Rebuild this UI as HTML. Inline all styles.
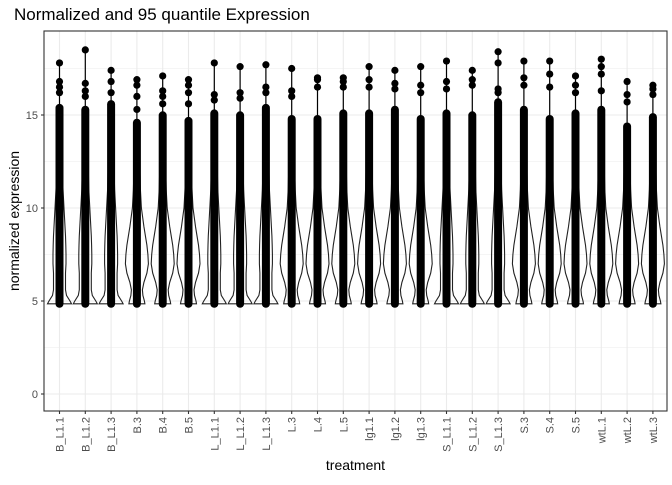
<!DOCTYPE html>
<html><head><meta charset="utf-8"><style>
body{margin:0;background:#fff;font-family:"Liberation Sans",sans-serif}
svg text{font-family:"Liberation Sans",sans-serif}
</style></head><body>
<svg id="c" width="672" height="480"></svg>
<script>
const categories=["B_L1.1","B_L1.2","B_L1.3","B.3","B.4","B.5","L_L1.1","L_L1.2","L_L1.3","L.3","L.4","L.5","lg1.1","lg1.2","lg1.3","S_L1.1","S_L1.2","S_L1.3","S.3","S.4","S.5","wtL.1","wtL.2","wtL.3"];
const maxValues=[17.8,18.5,17.4,16.9,17.1,16.9,17.8,17.6,17.7,17.5,17.0,17.0,17.6,17.4,17.6,17.9,17.4,18.4,17.9,17.9,17.1,18.0,16.8,16.6];
const barTops=[15.6,15.5,15.8,14.8,15.2,14.9,15.3,15.2,15.6,15.0,15.0,15.3,15.3,15.5,15.0,15.3,15.2,15.9,15.5,15.0,15.3,15.5,14.6,15.1];
const outliers=[[16.8,16.5,16.2],[16.7,16.3,16.0],[16.8,16.2],[16.6,16.0,15.3],[16.3,16.0,15.6],[16.6,16.2,15.6],[16.1,15.8],[16.2,15.9],[16.5,16.2],[16.3,16.0],[16.9,16.5],[16.8,16.5],[16.9,16.5],[16.7,16.4],[16.6,16.2],[16.8,16.4],[16.9,16.6],[17.8,16.4,16.2],[17.0,16.6],[17.2,16.5],[16.6,16.2],[17.6,17.2,16.3],[16.1,15.7],[16.4,16.1]];
const shapeType=["B","B","B","A","A","A","B","B","B","A","A","A","A","A","A","B","B","B","A","A","A","A","A","A"];
const profileY=[4.85,5.0,5.3,5.6,6.0,6.5,7.0,7.5,8.0,8.5,9.0,10,11,12,14];
const profileA=[8,7.5,6,5.5,7,10,11.5,11,10,8.5,7,4.5,3.5,3,2];
const profileB=[12,10.5,7,6,6,6,6.5,6.5,6.3,6,5.5,4.5,3.5,3,2];
const yTicks=[0,5,10,15];
const NS="http://www.w3.org/2000/svg";
const svg=document.getElementById('c');
const L=44,R=667,T=31,B=411;
const y=v=>394-v*18.6;
const x=i=>59.5+i*25.8;
function mk(tag,at,parent){const e=document.createElementNS(NS,tag);for(const k in at)e.setAttribute(k,at[k]);(parent||svg).appendChild(e);return e;}
let e;
e=mk('rect',{x:L,y:T,width:R-L,height:B-T,fill:'#fff'});


for(let v=-2.5;v<=20;v+=2.5){const major=yTicks.includes(v);if(y(v)<T||y(v)>B)continue;
 e=mk('line',{x1:L,x2:R,y1:y(v),y2:y(v),stroke:'#ebebeb','stroke-width':major?1.1:0.55});
 
 }
categories.forEach((c,i)=>{e=mk('line',{x1:x(i),x2:x(i),y1:T,y2:B,stroke:'#ebebeb','stroke-width':1.1});
 
 });
categories.forEach((c,i)=>{
 const g=mk('g',{});
 
 
 const prof=shapeType[i]==="A"?profileA:profileB;
 let d='';
 profileY.forEach((v,k)=>{d+=(k?'L':'M')+(x(i)+prof[k])+','+y(v);});
 for(let k=profileY.length-1;k>=0;k--)d+='L'+(x(i)-prof[k])+','+y(profileY[k]);
 d+='Z';
 e=mk('path',{d:d,fill:'none',stroke:'#222','stroke-width':1.1},g);
 
 
 e=mk('line',{x1:x(i),x2:x(i),y1:y(maxValues[i]),y2:y(4.85),stroke:'#000','stroke-width':1.2},g);
 
 
 e=mk('rect',{x:x(i)-4,y:y(barTops[i]),width:8,height:y(4.85)-y(barTops[i])+4,rx:4,fill:'#000'},g);
 
 
 [maxValues[i]].concat(outliers[i]).forEach(v=>{e=mk('circle',{cx:x(i),cy:y(v),r:3.6,fill:'#000'},g);
  
  });
});
e=mk('rect',{x:L,y:T,width:R-L,height:B-T,fill:'none',stroke:'#333','stroke-width':1.1});


yTicks.forEach(v=>{e=mk('line',{x1:L-3,x2:L,y1:y(v),y2:y(v),stroke:'#333','stroke-width':1.1});
 
 
 e=mk('text',{x:L-6,y:y(v)+4,'text-anchor':'end','font-size':11,fill:'#4d4d4d'});e.textContent=v;
 
 });
categories.forEach((c,i)=>{e=mk('line',{x1:x(i),x2:x(i),y1:B,y2:B+3,stroke:'#333','stroke-width':1.1});
 
 
 e=mk('text',{x:0,y:0,'text-anchor':'end','font-size':11,fill:'#4d4d4d',transform:`translate(${x(i)+4},${B+6}) rotate(-90)`});e.textContent=c;
 
 });
e=mk('text',{x:(L+R)/2,y:470,'text-anchor':'middle','font-size':14,fill:'#000'});e.textContent='treatment';


e=mk('text',{x:0,y:0,'text-anchor':'middle','font-size':14,fill:'#000',transform:`translate(19,${(T+B)/2}) rotate(-90)`});e.textContent='normalized expression';


e=mk('text',{x:14,y:20,'font-size':17,fill:'#000'});e.textContent='Normalized and 95 quantile Expression';


</script>
</body></html>
